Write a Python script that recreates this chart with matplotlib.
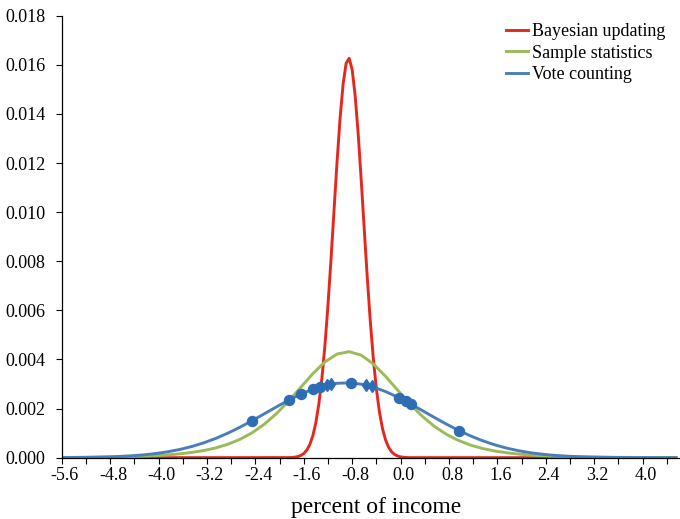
import numpy as np
import matplotlib
matplotlib.use('Agg')
from matplotlib import pyplot as plt

plt.rcParams['font.family'] = ['Liberation Serif', 'DejaVu Serif']

# x positions (percent of income) for the two wide curves, every 0.2
grid = np.round(np.arange(-5.7, 4.51, 0.2), 1)
# the Bayesian curve is narrow, so it is sampled every 0.05
bayes_x = np.round(np.arange(-1.9, 0.11, 0.05), 2)

bayes_y = [0.0000046, 0.0000104, 0.0000222, 0.0000456, 0.0000899, 0.000170,
           0.000308, 0.000537, 0.000896, 0.001435, 0.002203, 0.003246,
           0.004586, 0.006216, 0.008080, 0.010076, 0.012052, 0.013827,
           0.015219, 0.016065, 0.016266, 0.015800, 0.014719, 0.013154,
           0.011276, 0.009270, 0.007311, 0.005531, 0.004013, 0.002794,
           0.001865, 0.001194, 0.000734, 0.000432, 0.000244, 0.000133,
           0.000069, 0.000034, 0.000016, 0.0000076, 0.0000033]

sample_y = [0.0000100, 0.0000127, 0.0000163, 0.0000211, 0.0000276, 0.0000362,
            0.0000479, 0.0000638, 0.0000855, 0.0001154, 0.0001567, 0.0002138,
            0.0002928, 0.0004015, 0.0005507, 0.0007523, 0.0010206, 0.0013670,
            0.0017981, 0.0023071, 0.0028664, 0.0034229, 0.0039018, 0.0042213,
            0.0043188, 0.0041737, 0.0038163, 0.0033153, 0.0027527, 0.0022000,
            0.0017050, 0.0012910, 0.0009611, 0.0007074, 0.0005171, 0.0003769,
            0.0002749, 0.0002008, 0.0001473, 0.0001086, 0.0000806, 0.0000602,
            0.0000452, 0.0000343, 0.0000261, 0.0000201, 0.0000155, 0.0000121,
            0.0000095, 0.0000075, 0.0000059, 0.0000047]

vote_y = [0.0000042, 0.0000072, 0.0000121, 0.0000199, 0.0000319, 0.0000501,
          0.0000767, 0.0001148, 0.0001679, 0.0002397, 0.0003345, 0.0004560,
          0.0006073, 0.0007900, 0.0010039, 0.0012462, 0.0015113, 0.0017906,
          0.0020723, 0.0023428, 0.0025877, 0.0027919, 0.0029427, 0.0030300,
          0.0030478, 0.0029948, 0.0028748, 0.0026957, 0.0024694, 0.0022098,
          0.0019319, 0.0016498, 0.0013764, 0.0011218, 0.0008931, 0.0006946,
          0.0005277, 0.0003917, 0.0002841, 0.0002012, 0.0001392, 0.0000941,
          0.0000621, 0.0000401, 0.0000253, 0.0000156, 0.0000094, 0.0000055,
          0.0000032, 0.0000018, 0.0000010, 0.0000005]

# individual study estimates sitting on the vote counting curve
study_x = [-2.51, -1.90, -1.70, -1.50, -1.39, -1.26, -1.20, -0.87,
           -0.62, -0.53, -0.07, 0.04, 0.12, 0.92]
study_y = [0.00150, 0.00234, 0.00259, 0.00279, 0.00288, 0.00297, 0.00300,
           0.00304, 0.00295, 0.00290, 0.00243, 0.00229, 0.00218, 0.00110]
study_mark = ['o', 'o', 'o', 'o', 'o', 'd', 'd', 'o',
              'd', 'd', 'o', 'o', 'o', 'o']

tick_vals = [-5.6, -4.8, -4.0, -3.2, -2.4, -1.6, -0.8, 0.0, 0.8, 1.6, 2.4, 3.2, 4.0]
tick_text = ['-5.6', '-4.8', '-4.0', '-3.2', '-2.4', '-1.6', '-0.8',
             '0.0', '0.8', '1.6', '2.4', '3.2', '4.0']

red = '#e3291f'
green = '#9bbb59'
blue = '#4a7ebb'
dot = '#2e6db4'

fig = plt.figure(figsize=(6.8, 5.19), dpi=100)
ax = fig.add_axes([61.7 / 680, 1 - 457.7 / 519, (679 - 61.7) / 680, (457.7 - 15.7) / 519])

bx = np.concatenate([[-5.7], bayes_x, [4.5]])
by = np.concatenate([[0.0], bayes_y, [0.0]])
ax.plot(bx, by, color=red, lw=2.1, label='Bayesian updating', solid_joinstyle='round')
ax.plot(grid, sample_y, color=green, lw=2.1, label='Sample statistics')
ax.plot(grid, vote_y, color=blue, lw=2.1, label='Vote counting')
for x, y, m in zip(study_x, study_y, study_mark):
    if m == 'o':
        ax.plot(x, y, 'o', color=dot, ms=7.2, mec=dot)
    else:
        ax.plot(x, y, 'd', color=dot, ms=6.5, mec=dot)

ax.set_xlim(-5.65, 4.55)
ax.set_ylim(0, 0.018)

ax.set_xticks(tick_vals)
ax.set_xticklabels(tick_text)
ax.set_xticks(np.arange(-5.65, 4.56, 0.4), minor=True)
ax.tick_params(axis='x', which='major', length=0, pad=7, labelsize=13)
ax.tick_params(axis='x', which='minor', length=4, width=0.8, direction='out')
ax.set_yticks(np.arange(0, 0.0181, 0.002))
ax.set_yticklabels(['%.3f' % v for v in np.arange(0, 0.0181, 0.002)])
ax.tick_params(axis='y', length=4, width=0.8, pad=7.5, labelsize=13)

for s in ['top', 'right']:
    ax.spines[s].set_visible(False)
ax.spines['left'].set_linewidth(0.9)
ax.spines['bottom'].set_linewidth(0.9)

ax.set_xlabel('percent of income', fontsize=17)
ax.xaxis.set_label_coords(0.51, -0.112)
ax.xaxis.label.set_va('center')

ax.legend(loc='upper left', bbox_to_anchor=(506 / 680, 1 - 23 / 519),
          bbox_transform=fig.transFigure, frameon=False, fontsize=13,
          handlelength=1.2, handletextpad=0.25, labelspacing=0.26,
          borderpad=0, borderaxespad=0)

fig.savefig('out.png', dpi=100)
